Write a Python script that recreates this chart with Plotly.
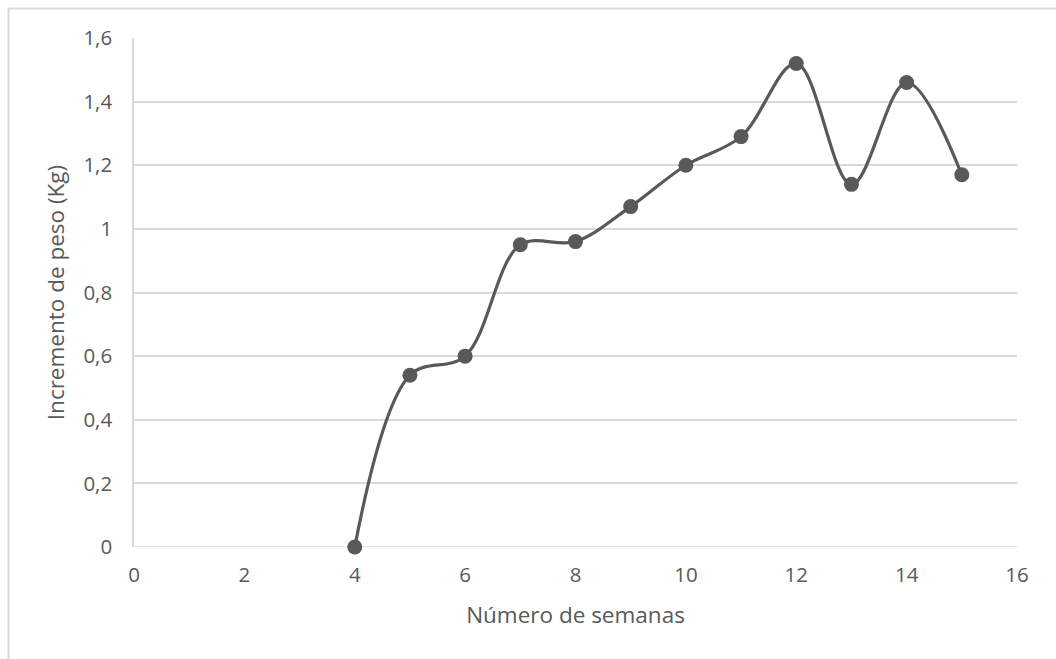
import plotly.graph_objects as go

# Weekly weight gain
semanas = [4, 5, 6, 7, 8, 9, 10, 11, 12, 13, 14, 15]
incremento_kg = [0.0, 0.54, 0.60, 0.95, 0.96, 1.07, 1.20, 1.29, 1.52, 1.14, 1.46, 1.17]

x_ticks = [0, 2, 4, 6, 8, 10, 12, 14, 16]
y_ticks = [0, 0.2, 0.4, 0.6, 0.8, 1.0, 1.2, 1.4, 1.6]
y_tick_text = ["0", "0,2", "0,4", "0,6", "0,8", "1", "1,2", "1,4", "1,6"]

DARK = "#595959"
GRID = "#d9d9d9"
FONT = "Open Sans"

fig = go.Figure(
    go.Scatter(
        x=semanas,
        y=incremento_kg,
        mode="lines+markers",
        line=dict(color=DARK, width=3.2, shape="spline", smoothing=1.0),
        marker=dict(color=DARK, size=15),
        showlegend=False,
        cliponaxis=False,
    )
)

fig.update_xaxes(
    range=[0, 16],
    tickvals=x_ticks,
    ticktext=[str(v) for v in x_ticks],
    showgrid=False,
    zeroline=False,
    showline=False,
    ticks="",
    ticklabelstandoff=13,
    tickfont=dict(family=FONT, size=20.5, color=DARK),
    title=dict(text="Número de semanas", font=dict(family=FONT, size=22.5, color=DARK), standoff=20),
)
fig.update_yaxes(
    range=[0, 1.6],
    tickvals=y_ticks,
    ticktext=y_tick_text,
    showgrid=True,
    gridcolor=GRID,
    gridwidth=1.5,
    zeroline=False,
    showline=True,
    linecolor=GRID,
    linewidth=1.5,
    ticks="",
    ticklabelstandoff=16,
    tickfont=dict(family=FONT, size=20.5, color=DARK),
    title=dict(text="Incremento de peso (Kg)", font=dict(family=FONT, size=22.5, color=DARK), standoff=13),
)

# Bottom axis line drawn as a horizontal rule at y = 0
fig.add_shape(type="line", xref="paper", yref="y", x0=0, x1=1, y0=0, y1=0,
              line=dict(color=GRID, width=1.5), layer="below")

# Outer chart border (extends past the right and bottom edges of the page)
fig.add_shape(type="rect", xref="paper", yref="paper",
              x0=(8.5 - 134) / 883, x1=(1070 - 134) / 883,
              y0=(547 - 680) / 509, y1=(547 - 8.5) / 509,
              line=dict(color=GRID, width=2), fillcolor="rgba(0,0,0,0)", layer="below")

fig.update_layout(
    width=1056,
    height=659,
    margin=dict(l=134, r=39, t=38, b=112, autoexpand=False),
    paper_bgcolor="white",
    plot_bgcolor="white",
    font=dict(family=FONT, color=DARK),
)

fig.write_html("out.html")
